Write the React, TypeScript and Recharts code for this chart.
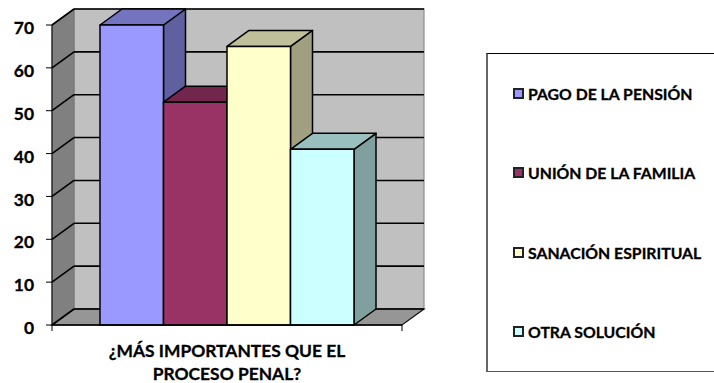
import React from "react";
import { BarChart, Bar, XAxis, YAxis, CartesianGrid, ReferenceArea, Legend, Text } from "recharts";

const categories = ["¿MÁS IMPORTANTES QUE EL PROCESO PENAL?"];
const seriesNames = ["PAGO DE LA PENSIÓN", "UNIÓN DE LA FAMILIA", "SANACIÓN ESPIRITUAL", "OTRA SOLUCIÓN"];
const seriesValues = [70, 52, 65, 41];
const yTicks = [0, 10, 20, 30, 40, 50, 60, 70];

const frontColors = ["#9999FF", "#993366", "#FFFFCC", "#CCFFFF"];
const topColors = ["#7373BF", "#73264D", "#BFBF99", "#99BFBF"];
const sideColors = ["#6060A0", "#602040", "#A0A080", "#80A0A0"];

const DX = 22;
const DY = 16;
const FONT = "Lato, Carlito, sans-serif";
const LEGEND_W = 228;

const data = categories.map((name) => {
  const row: Record<string, string | number> = { name };
  seriesNames.forEach((s, i) => {
    row[s] = seriesValues[i];
  });
  return row;
});

// back wall, side wall and floor of the 3D box
function Walls({ x, y, width, height }: any) {
  const bottom = y + height;
  const right = x + width;
  return (
    <g>
      <rect x={x + DX} y={y - DY} width={width} height={height} fill="#C0C0C0" stroke="#8C8C8C" strokeWidth={1.2} />
      <polygon
        points={`${x},${y} ${x + DX},${y - DY} ${x + DX},${bottom - DY} ${x},${bottom}`}
        fill="#808080"
        stroke="#777"
      />
      <polygon
        points={`${x},${bottom} ${x + DX},${bottom - DY} ${right + DX},${bottom - DY} ${right},${bottom}`}
        fill="#969696"
        stroke="#111"
        strokeWidth={1.2}
      />
      <line x1={x} y1={bottom} x2={x} y2={bottom + 6} stroke="#000" />
      <line x1={right} y1={bottom} x2={right} y2={bottom + 6} stroke="#000" />
    </g>
  );
}

function GridLine({ x1, x2, y1, index }: any) {
  return (
    <g key={index} stroke="#000" strokeWidth={1.6}>
      <line x1={x1} y1={y1} x2={x1 + DX} y2={y1 - DY} />
      <line x1={x1 + DX} y1={y1 - DY} x2={x2 + DX} y2={y1 - DY} />
    </g>
  );
}

function makeBox(i: number) {
  return function Box({ x, y, width, height }: any) {
    const r = x + width;
    const b = y + height;
    return (
      <g stroke="#000" strokeWidth={1.5} strokeLinejoin="round">
        <polygon points={`${r},${y} ${r + DX},${y - DY} ${r + DX},${b - DY} ${r},${b}`} fill={sideColors[i]} />
        <polygon points={`${x},${y} ${x + DX},${y - DY} ${r + DX},${y - DY} ${r},${y}`} fill={topColors[i]} />
        <rect x={x} y={y} width={width} height={height} fill={frontColors[i]} />
      </g>
    );
  };
}

function CategoryTick({ x, y, payload }: any) {
  return (
    <Text
      x={x}
      y={y + 24}
      width={270}
      textAnchor="middle"
      verticalAnchor="middle"
      lineHeight={23}
      style={{ fontFamily: FONT, fontWeight: 700, fontSize: 17.4, fill: "#000", stroke: "#000", strokeWidth: 0.3 }}
    >
      {payload.value}
    </Text>
  );
}

function LegendBox({ payload }: any) {
  return (
    <div
      style={{
        width: LEGEND_W,
        height: 319,
        boxSizing: "border-box",
        borderLeft: "2px solid #666",
        borderTop: "1.5px solid #000",
        borderBottom: "1.5px solid #555",
        background: "#fff",
        position: "relative",
      }}
    >
      {payload.map((p: any, i: number) => (
        <div
          key={p.value}
          style={{
            position: "absolute",
            left: 25,
            top: 29 + i * 79.6,
            display: "flex",
            alignItems: "center",
            height: 20,
            fontFamily: FONT,
            fontWeight: 700,
            fontSize: 15.8,
            WebkitTextStroke: "0.3px #000",
            whiteSpace: "nowrap",
            color: "#000",
          }}
        >
          <span
            style={{
              display: "inline-block",
              width: 11,
              height: 11,
              boxSizing: "border-box",
              border: "2px solid #222",
              background: frontColors[i],
              marginRight: 4,
            }}
          />
          {p.value}
        </div>
      ))}
    </div>
  );
}

export default function App() {
  return (
    <div style={{ position: "absolute", left: 0, top: 0, width: 714, height: 383, overflow: "hidden" }}>
      <BarChart
        width={714}
        height={383}
        data={data}
        margin={{ top: 25, right: 312 - LEGEND_W, bottom: 0, left: 0 }}
        barCategoryGap={48}
        barGap={0}
        barSize={63.5}
      >
        <ReferenceArea y1={0} y2={70} shape={<Walls />} ifOverflow="visible" zIndex={-200} />
        <CartesianGrid vertical={false} horizontal={GridLine as any} />
        <XAxis
          dataKey="name"
          tick={CategoryTick}
          tickLine={false}
          axisLine={{ stroke: "#000", strokeWidth: 1.4 }}
          interval={0}
          height={58}
        />
        <YAxis
          domain={[0, 70]}
          ticks={yTicks}
          width={52}
          tickLine={{ stroke: "#000" }}
          tickSize={6}
          tickMargin={12}
          axisLine={{ stroke: "#000" }}
          tick={{ fontFamily: FONT, fontWeight: 700, fontSize: 17.4, fill: "#000", stroke: "#000", strokeWidth: 0.3, dy: 3 }}
        />
        <Legend
          layout="vertical"
          align="right"
          verticalAlign="top"
          itemSorter={null}
          content={<LegendBox />}
          wrapperStyle={{ left: 486, top: 53, width: LEGEND_W }}
        />
        {seriesNames.map((s, i) => (
          <Bar key={s} dataKey={s} fill={frontColors[i]} shape={makeBox(i)} isAnimationActive={false} />
        ))}
      </BarChart>
    </div>
  );
}
